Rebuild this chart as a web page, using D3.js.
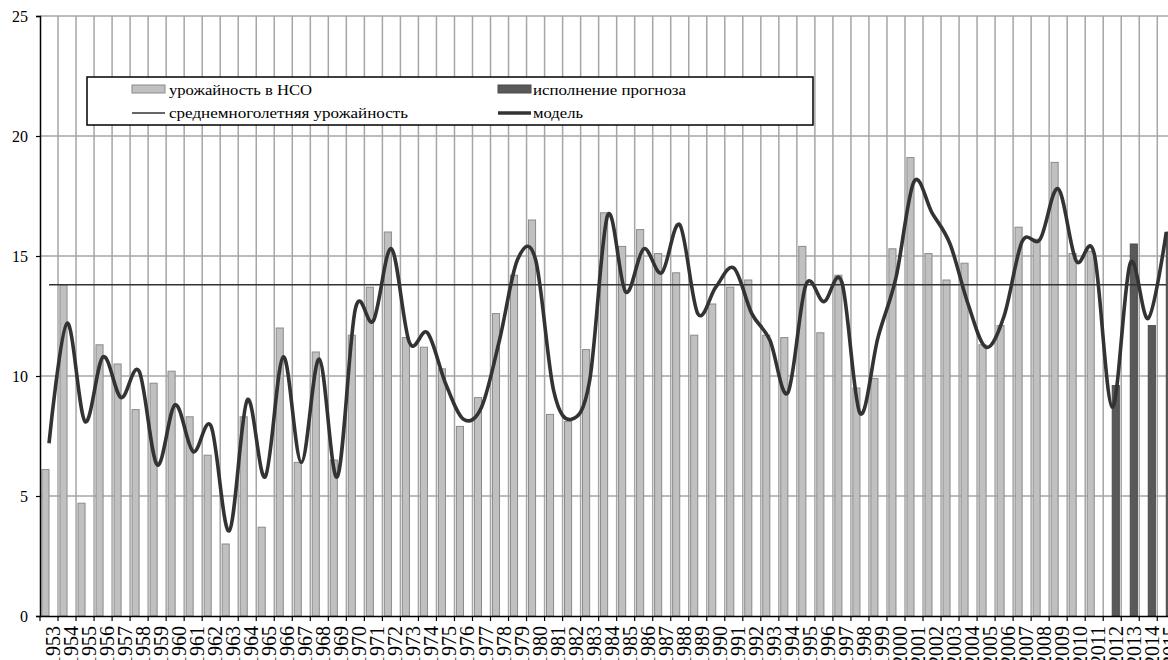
<!DOCTYPE html>
<html>
<head>
<meta charset="utf-8">
<script src="https://cdn.jsdelivr.net/npm/d3@7"></script>
<style>
  html, body { margin: 0; padding: 0; background: #fff; }
  svg { display: block; }
</style>
</head>
<body>
<svg id="chart" width="1168" height="660"></svg>
<script>
// Years on the category axis
const years = [
  1953, 1954, 1955, 1956, 1957, 1958, 1959, 1960, 1961, 1962,
  1963, 1964, 1965, 1966, 1967, 1968, 1969, 1970, 1971, 1972,
  1973, 1974, 1975, 1976, 1977, 1978, 1979, 1980, 1981, 1982,
  1983, 1984, 1985, 1986, 1987, 1988, 1989, 1990, 1991, 1992,
  1993, 1994, 1995, 1996, 1997, 1998, 1999, 2000, 2001, 2002,
  2003, 2004, 2005, 2006, 2007, 2008, 2009, 2010, 2011, 2012,
  2013, 2014, 2015
];

// Observed yield in the Novosibirsk region (ц/га), 1953–2011
const yieldNSO = [
  6.1, 13.8, 4.7, 11.3, 10.5, 8.6, 9.7, 10.2, 8.3, 6.7,
  3.0, 8.3, 3.7, 12.0, 6.4, 11.0, 6.5, 11.7, 13.7, 16.0,
  11.6, 11.2, 10.3, 7.9, 9.1, 12.6, 14.2, 16.5, 8.4, 8.1,
  11.1, 16.8, 15.4, 16.1, 15.1, 14.3, 11.7, 13.0, 13.7, 14.0,
  11.7, 11.6, 15.4, 11.8, 14.2, 9.5, 9.9, 15.3, 19.1, 15.1,
  14.0, 14.7, 11.3, 12.1, 16.2, 15.7, 18.9, 15.1, 15.2, null,
  null, null, null
];

// Forecast fulfilment, 2012–2015
const forecast = [
  null, null, null, null, null, null, null, null, null, null,
  null, null, null, null, null, null, null, null, null, null,
  null, null, null, null, null, null, null, null, null, null,
  null, null, null, null, null, null, null, null, null, null,
  null, null, null, null, null, null, null, null, null, null,
  null, null, null, null, null, null, null, null, null, 9.6,
  15.5, 12.1, 16.0
];

// Model curve
const model = [
  7.2, 12.2, 8.1, 10.8, 9.1, 10.2, 6.3, 8.8, 6.85, 7.9,
  3.55, 9.0, 5.8, 10.8, 6.4, 10.7, 5.8, 12.8, 12.3, 15.3,
  11.4, 11.8, 9.7, 8.2, 8.7, 11.5, 14.85, 14.85, 9.4, 8.2,
  9.8, 16.7, 13.5, 15.3, 14.3, 16.3, 12.6, 13.7, 14.5, 12.6,
  11.5, 9.3, 13.8, 13.1, 13.9, 8.45, 11.6, 14.1, 18.1, 16.8,
  15.5, 13.0, 11.2, 12.5, 15.6, 15.7, 17.8, 14.8, 15.1, 8.7,
  14.7, 12.4, 16.0
];

// Long-term average yield
const meanYield = 13.8;

const yTicks = [0, 5, 10, 15, 20, 25];

const legendItems = [
  { label: "урожайность в НСО", kind: "bar", color: "#c0c0c0" },
  { label: "исполнение прогноза", kind: "bar", color: "#595959" },
  { label: "среднемноголетняя урожайность", kind: "thin" },
  { label: "модель", kind: "thick" }
];

const serif = '"Liberation Serif", "Times New Roman", serif';

const svg = d3.select("#chart").style("font-family", serif);
const plot = { left: 40, right: 1175.3, top: 16, bottom: 616 };

const x = d3.scaleBand().domain(years).range([plot.left, plot.right]).padding(0);
const y = d3.scaleLinear().domain([0, 25]).range([plot.bottom, plot.top]);
const sub = d3.scaleBand().domain(["obs", "fc"]).range([0, x.bandwidth()])
  .paddingInner(0).paddingOuter(0.27);

const gridColor = "#a6a6a6";

// horizontal gridlines
svg.append("g").selectAll("line").data(yTicks.filter(d => d > 0)).join("line")
  .attr("x1", plot.left).attr("x2", 1168)
  .attr("y1", d => y(d)).attr("y2", d => y(d))
  .attr("stroke", gridColor).attr("stroke-width", 1.5);

// vertical gridlines at category boundaries
svg.append("g").selectAll("line").data(years.slice(1)).join("line")
  .attr("x1", d => x(d)).attr("x2", d => x(d))
  .attr("y1", plot.top).attr("y2", plot.bottom)
  .attr("stroke", gridColor).attr("stroke-width", 1.5);

// observed yield bars
svg.append("g").selectAll("rect")
  .data(years.map((yr, i) => ({ yr, v: yieldNSO[i] })).filter(d => d.v != null))
  .join("rect")
  .attr("x", d => x(d.yr) + sub("obs"))
  .attr("width", sub.bandwidth())
  .attr("y", d => y(d.v))
  .attr("height", d => y(0) - y(d.v))
  .attr("fill", "#c0c0c0").attr("stroke", "#8a8a8a").attr("stroke-width", 1);

// forecast bars
svg.append("g").selectAll("rect")
  .data(years.map((yr, i) => ({ yr, v: forecast[i] })).filter(d => d.v != null))
  .join("rect")
  .attr("x", d => x(d.yr) + sub("fc"))
  .attr("width", sub.bandwidth())
  .attr("y", d => y(d.v))
  .attr("height", d => y(0) - y(d.v))
  .attr("fill", "#595959").attr("stroke", "#4a4a4a").attr("stroke-width", 1);

const cx = yr => x(yr) + x.bandwidth() / 2;

// average line
svg.append("path")
  .datum(years)
  .attr("d", d3.line().x(d => cx(d)).y(() => y(meanYield)))
  .attr("fill", "none").attr("stroke", "#333").attr("stroke-width", 1.4);

// model curve
svg.append("path")
  .datum(years.map((yr, i) => ({ yr, v: model[i] })))
  .attr("d", d3.line().x(d => cx(d.yr)).y(d => y(d.v)).curve(d3.curveCardinal.tension(0)))
  .attr("fill", "none").attr("stroke", "#333").attr("stroke-width", 3.6)
  .attr("stroke-linejoin", "round");

// y axis
const yAxis = svg.append("g").attr("transform", `translate(${plot.left},0)`)
  .call(d3.axisLeft(y).tickValues(yTicks).tickSize(4).tickPadding(8));
yAxis.attr("font-family", serif);
yAxis.select(".domain").attr("stroke", "#000").attr("stroke-width", 1.5);
yAxis.selectAll(".tick line").attr("stroke", "#000").attr("stroke-width", 1.2);
yAxis.selectAll(".tick text").attr("font-size", 16).attr("fill", "#000");

// x axis
const xAxis = svg.append("g").attr("transform", `translate(0,${plot.bottom})`)
  .call(d3.axisBottom(x).tickSize(0).tickPadding(0));
xAxis.attr("font-family", serif);
xAxis.select(".domain").attr("stroke", "#000").attr("stroke-width", 1.5);
xAxis.selectAll(".tick text")
  .attr("font-size", 20).attr("fill", "#000")
  .attr("text-anchor", "end")
  .attr("transform", "translate(11,10) rotate(-90)")
  .attr("x", 0).attr("y", 0).attr("dy", 0);
// boundary tick marks
xAxis.append("g").selectAll("line").data(years).join("line")
  .attr("x1", d => x(d)).attr("x2", d => x(d))
  .attr("y1", 0).attr("y2", 5)
  .attr("stroke", "#000").attr("stroke-width", 1.2);

// legend
const lg = svg.append("g").attr("font-family", serif);
lg.append("rect").attr("x", 87).attr("y", 77).attr("width", 726).attr("height", 48)
  .attr("fill", "#fff").attr("stroke", "#000").attr("stroke-width", 1.5);
const legendPos = [
  { sx: 132, tx: 169, cy: 89, base: 95, w: 143 },
  { sx: 498, tx: 533, cy: 89, base: 95, w: 153 },
  { sx: 132, tx: 169, cy: 113, base: 118, w: 239 },
  { sx: 498, tx: 533, cy: 113, base: 118, w: 50 }
];
legendItems.forEach((it, i) => {
  const p = legendPos[i];
  if (it.kind === "bar") {
    lg.append("rect").attr("x", p.sx).attr("y", p.cy - 4).attr("width", 33).attr("height", 8)
      .attr("fill", it.color).attr("stroke", it.color === "#c0c0c0" ? "#8a8a8a" : "#4a4a4a");
  } else {
    lg.append("line").attr("x1", p.sx).attr("x2", p.sx + 33)
      .attr("y1", p.cy).attr("y2", p.cy)
      .attr("stroke", "#333").attr("stroke-width", it.kind === "thick" ? 3.6 : 1.4);
  }
  lg.append("text").attr("x", p.tx).attr("y", p.base)
    .attr("font-size", 15).attr("fill", "#000")
    .attr("textLength", p.w).attr("lengthAdjust", "spacingAndGlyphs")
    .text(it.label);
});
</script>
</body>
</html>
